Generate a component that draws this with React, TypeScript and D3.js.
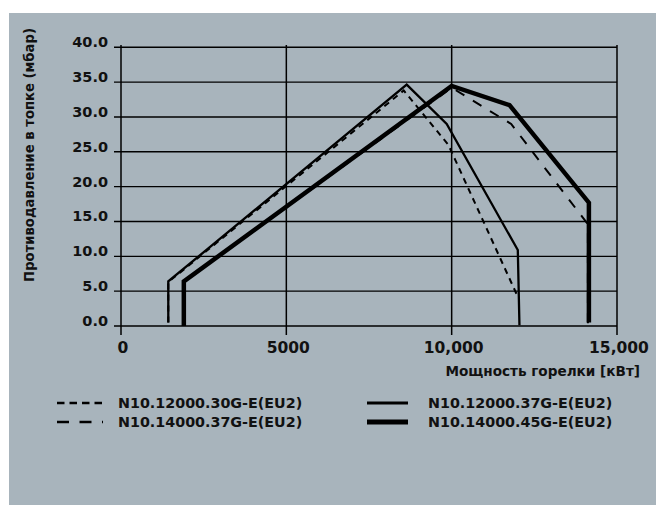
import React from "react";
import * as d3 from "d3";

const W = 656;
const H = 505;

const yTicks = [0, 5, 10, 15, 20, 25, 30, 35, 40];
const yTickLabels = ["0.0", "5.0", "10.0", "15.0", "20.0", "25.0", "30.0", "35.0", "40.0"];
const xTicks = [0, 5000, 10000, 15000];
const xTickLabels = ["0", "5000", "10,000", "15,000"];

const seriesNames = [
  "N10.12000.30G-E(EU2)",
  "N10.12000.37G-E(EU2)",
  "N10.14000.37G-E(EU2)",
  "N10.14000.45G-E(EU2)",
];

// N10.12000.30G-E(EU2)
const s1X = [1430, 1430, 8550, 9900, 12000];
const s1Y = [0.5, 6.3, 33.8, 26, 4.2];
// N10.12000.37G-E(EU2)
const s2X = [1430, 1430, 8640, 9850, 12000, 12050];
const s2Y = [0.5, 6.4, 34.65, 29, 10.9, 0.1];
// N10.14000.37G-E(EU2)
const s3X = [1900, 1900, 10000, 11800, 14120, 14120];
const s3Y = [0, 6.4, 34.2, 29, 14.6, 0];
// N10.14000.45G-E(EU2)
const s4X = [1900, 1900, 10000, 11750, 14150, 14150];
const s4Y = [0, 6.4, 34.45, 31.7, 17.7, 0.5];

const yTitle = "Противодавление в топке (мбар)";
const xTitle = "Мощность горелки [кВт]";

const FONT = "'DejaVu Sans', Verdana, sans-serif";

export default function App() {
  const x = d3.scaleLinear().domain([0, 15000]).range([121, 617]);
  const y = d3.scaleLinear().domain([0, 40]).range([326, 47.3]);
  const line = d3
    .line<[number, number]>()
    .x((d) => x(d[0]))
    .y((d) => y(d[1]));
  const pts = (xs: number[], ys: number[]) => xs.map((v, i) => [v, ys[i]] as [number, number]);

  const series = [
    { name: seriesNames[3], d: line(pts(s4X, s4Y)), w: 4.5, dash: undefined },
    { name: seriesNames[1], d: line(pts(s2X, s2Y)), w: 2.3, dash: undefined },
    { name: seriesNames[2], d: line(pts(s3X, s3Y)), w: 2, dash: "10,10" },
    { name: seriesNames[0], d: line(pts(s1X, s1Y)), w: 2, dash: "6,5" },
  ];

  const legend = [
    { name: seriesNames[0], x1: 57, x2: 103, tx: 118, yl: 403, yt: 408, w: 2.6, dash: "7.5,5" },
    { name: seriesNames[2], x1: 57, x2: 103, tx: 118, yl: 422, yt: 427, w: 2.6, dash: "12,10.5" },
    { name: seriesNames[1], x1: 367, x2: 408, tx: 428, yl: 403, yt: 408, w: 2.8, dash: undefined },
    { name: seriesNames[3], x1: 367, x2: 408, tx: 428, yl: 422, yt: 427, w: 5, dash: undefined },
  ];

  return (
    <svg
      width={W}
      height={H}
      style={{ position: "absolute", left: 0, top: 0, display: "block" }}
      fontFamily={FONT}
    >
      <rect x={0} y={0} width={W} height={H} fill="#ffffff" />
      <rect x={9} y={13} width={W - 9} height={H - 13} fill="#a8b4bc" />

      {/* horizontal grid */}
      {yTicks.map((t) => (
        <line key={"h" + t} x1={114} x2={x(15000)} y1={y(t)} y2={y(t)} stroke="#000" strokeWidth={1.4} />
      ))}
      {/* vertical grid */}
      {xTicks.map((t) => (
        <line key={"v" + t} x1={x(t)} x2={x(t)} y1={45} y2={335} stroke="#000" strokeWidth={1.5} />
      ))}

      {/* y tick labels */}
      {yTicks.map((t, i) => (
        <text key={"yl" + t} x={108} y={y(t)} textAnchor="end" fontSize={14.5} fontWeight="bold" fill="#111">
          {yTickLabels[i]}
        </text>
      ))}
      {/* x tick labels */}
      {xTicks.map((t, i) => (
        <text key={"xl" + t} x={x(t) + 2} y={353} textAnchor="middle" fontSize={15.5} fontWeight="bold" fill="#111">
          {xTickLabels[i]}
        </text>
      ))}

      {/* series */}
      {series.map((s) => (
        <path
          key={s.name}
          d={s.d || ""}
          fill="none"
          stroke="#000"
          strokeWidth={s.w}
          strokeDasharray={s.dash}
          strokeLinejoin="miter"
          strokeLinecap="butt"
        />
      ))}

      {/* axis titles */}
      <text
        transform={`translate(34,155) rotate(-90)`}
        textAnchor="middle"
        fontSize={13.2}
        fontWeight="bold"
        fill="#111"
      >
        {yTitle}
      </text>
      <text x={640} y={376} textAnchor="end" fontSize={13.6} fontWeight="bold" fill="#111">
        {xTitle}
      </text>

      {/* legend */}
      {legend.map((l) => (
        <g key={"lg" + l.name}>
          <line x1={l.x1} x2={l.x2} y1={l.yl} y2={l.yl} stroke="#000" strokeWidth={l.w} strokeDasharray={l.dash} />
          <text x={l.tx} y={l.yt} fontSize={14.3} fontWeight="bold" fill="#111">
            {l.name}
          </text>
        </g>
      ))}
    </svg>
  );
}
